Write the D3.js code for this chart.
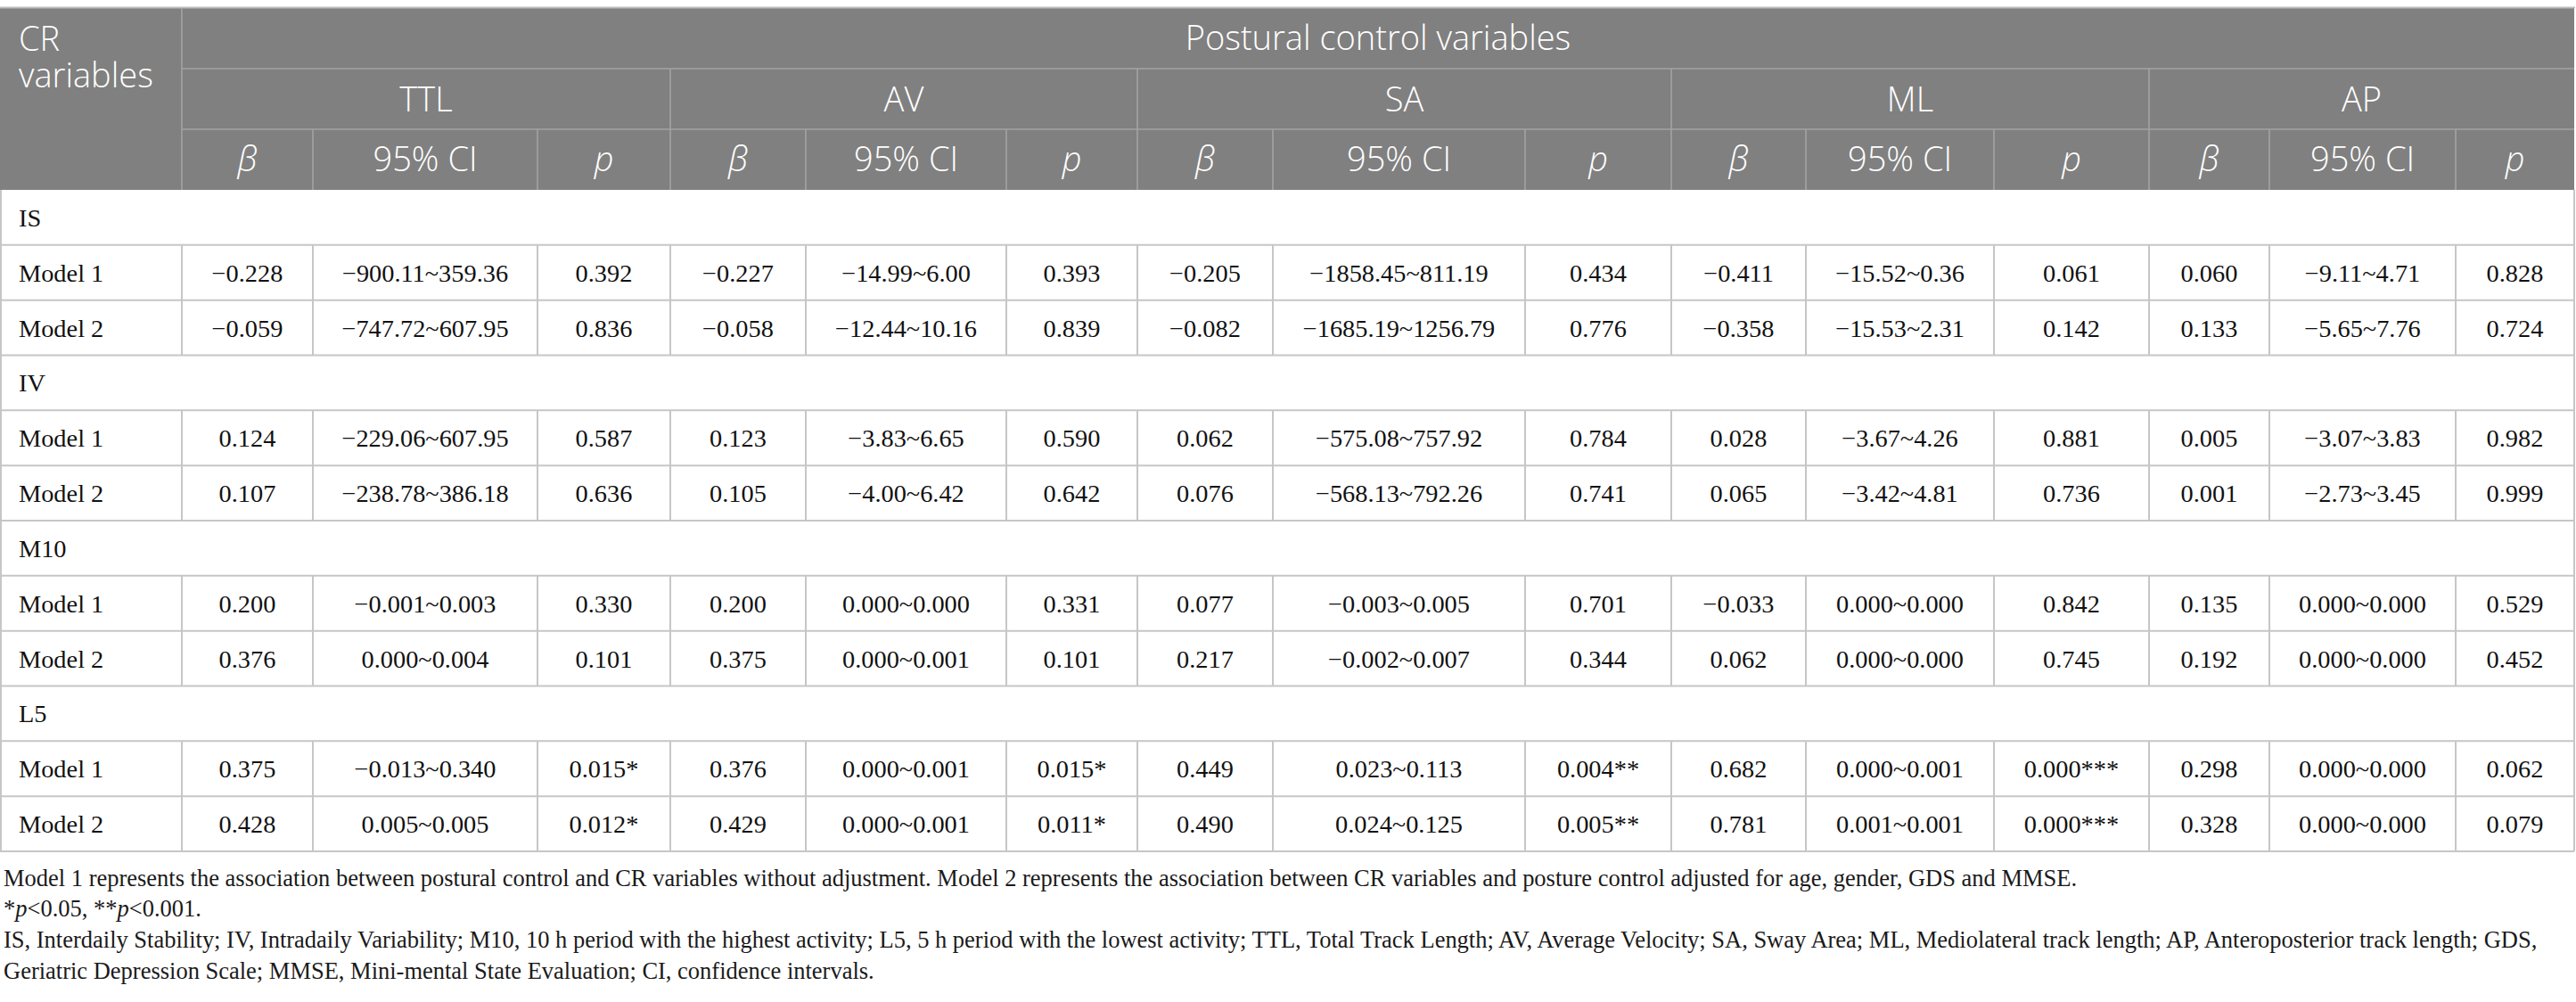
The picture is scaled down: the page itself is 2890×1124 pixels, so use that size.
<!DOCTYPE html>
<html>
<head>
<meta charset="utf-8">
<script src="https://cdn.jsdelivr.net/npm/d3@7"></script>
<style>
html,body{margin:0;padding:0;background:#fff;}
svg{display:block;}
</style>
</head>
<body>
<svg id="chart" width="2890" height="1124"></svg>
<script>
// ---------------- data ----------------
const title = "Postural control variables";
const stubHeader = ["CR", "variables"];
const groups = ["TTL", "AV", "SA", "ML", "AP"];
const subCols = ["β", "95% CI", "p"];
const crVars = ["IS", "IV", "M10", "L5"];
const models = ["Model 1", "Model 2"];

// rows: IS-M1, IS-M2, IV-M1, IV-M2, M10-M1, M10-M2, L5-M1, L5-M2
const TTL = [
  ["−0.228", "−900.11~359.36", "0.392"],
  ["−0.059", "−747.72~607.95", "0.836"],
  ["0.124", "−229.06~607.95", "0.587"],
  ["0.107", "−238.78~386.18", "0.636"],
  ["0.200", "−0.001~0.003", "0.330"],
  ["0.376", "0.000~0.004", "0.101"],
  ["0.375", "−0.013~0.340", "0.015*"],
  ["0.428", "0.005~0.005", "0.012*"]
];
const AV = [
  ["−0.227", "−14.99~6.00", "0.393"],
  ["−0.058", "−12.44~10.16", "0.839"],
  ["0.123", "−3.83~6.65", "0.590"],
  ["0.105", "−4.00~6.42", "0.642"],
  ["0.200", "0.000~0.000", "0.331"],
  ["0.375", "0.000~0.001", "0.101"],
  ["0.376", "0.000~0.001", "0.015*"],
  ["0.429", "0.000~0.001", "0.011*"]
];
const SA = [
  ["−0.205", "−1858.45~811.19", "0.434"],
  ["−0.082", "−1685.19~1256.79", "0.776"],
  ["0.062", "−575.08~757.92", "0.784"],
  ["0.076", "−568.13~792.26", "0.741"],
  ["0.077", "−0.003~0.005", "0.701"],
  ["0.217", "−0.002~0.007", "0.344"],
  ["0.449", "0.023~0.113", "0.004**"],
  ["0.490", "0.024~0.125", "0.005**"]
];
const ML = [
  ["−0.411", "−15.52~0.36", "0.061"],
  ["−0.358", "−15.53~2.31", "0.142"],
  ["0.028", "−3.67~4.26", "0.881"],
  ["0.065", "−3.42~4.81", "0.736"],
  ["−0.033", "0.000~0.000", "0.842"],
  ["0.062", "0.000~0.000", "0.745"],
  ["0.682", "0.000~0.001", "0.000***"],
  ["0.781", "0.001~0.001", "0.000***"]
];
const AP = [
  ["0.060", "−9.11~4.71", "0.828"],
  ["0.133", "−5.65~7.76", "0.724"],
  ["0.005", "−3.07~3.83", "0.982"],
  ["0.001", "−2.73~3.45", "0.999"],
  ["0.135", "0.000~0.000", "0.529"],
  ["0.192", "0.000~0.000", "0.452"],
  ["0.298", "0.000~0.000", "0.062"],
  ["0.328", "0.000~0.000", "0.079"]
];
const footnotes = [
  [{t:"Model 1 represents the association between postural control and CR variables without adjustment. Model 2 represents the association between CR variables and posture control adjusted for age, gender, GDS and MMSE."}],
  [{t:"*"},{t:"p",i:true},{t:"<0.05, **"},{t:"p",i:true},{t:"<0.001."}],
  [{t:"IS, Interdaily Stability; IV, Intradaily Variability; M10, 10 h period with the highest activity; L5, 5 h period with the lowest activity; TTL, Total Track Length; AV, Average Velocity; SA, Sway Area; ML, Mediolateral track length; AP, Anteroposterior track length; GDS,"}],
  [{t:"Geriatric Depression Scale; MMSE, Mini-mental State Evaluation; CI, confidence intervals."}]
];

// ---------------- layout ----------------
const groupData = {TTL, AV, SA, ML, AP};
const colEdges = [0, 204, 351, 603, 752, 904, 1129, 1276, 1428, 1711, 1875, 2026, 2237, 2411, 2546, 2755, 2888];
const headTop = 9, headRowH = 68;
const bodyTop = headTop + 3 * headRowH; // 213
const bodyBottom = 955;
const HEAD_BG = "#808080", HEAD_LINE = "#a3a3a3", BODY_LINE = "#c6c6c6";
const SANS = "'Open Sans', sans-serif";
const SERIF = "'Liberation Serif', 'Times New Roman', serif";

const bodyRows = [];
crVars.forEach((v, gi) => {
  bodyRows.push({type: "group", label: v});
  models.forEach((m, mi) => {
    const idx = gi * 2 + mi;
    const cells = [];
    groups.forEach(g => groupData[g][idx].forEach(c => cells.push(c)));
    bodyRows.push({type: "model", label: m, cells});
  });
});

const svg = d3.select("#chart");
const left = colEdges[0], right = colEdges[colEdges.length - 1];

// --- font calibration against reference text widths ---
function measure(str, family, size, weight) {
  const t = svg.append("text").attr("font-family", family).attr("font-size", size).attr("font-weight", weight || 400).text(str);
  const w = t.node().getComputedTextLength();
  t.remove();
  return w;
}
const fnSize = 25 * 2844 / measure(footnotes[2][0].t, SERIF, 25);
const bodySize = fnSize * 1.07;
const headSize = Math.min(38, 35 * 437 / measure(title, SANS, 35, 300));

const yHead = d3.scaleBand().domain([0, 1, 2]).range([headTop, bodyTop]);
const yBody = d3.scaleBand().domain(d3.range(bodyRows.length)).range([bodyTop, bodyBottom]);

// ---- header background ----
svg.append("rect").attr("x", left).attr("y", headTop).attr("width", right - left).attr("height", bodyTop - headTop).attr("fill", HEAD_BG);
svg.append("line").attr("x1", left).attr("x2", right + 1).attr("y1", headTop - 0.5).attr("y2", headTop - 0.5).attr("stroke", "#bdbdbd").attr("stroke-width", 2);

const hl = svg.append("g").attr("stroke", HEAD_LINE).attr("stroke-width", 1.6);
hl.append("line").attr("x1", colEdges[1]).attr("x2", right).attr("y1", yHead(1)).attr("y2", yHead(1));
hl.append("line").attr("x1", colEdges[1]).attr("x2", right).attr("y1", yHead(2)).attr("y2", yHead(2));
hl.append("line").attr("x1", colEdges[1]).attr("x2", colEdges[1]).attr("y1", headTop).attr("y2", bodyTop);
groups.forEach((g, i) => {
  if (i > 0) {
    const x = colEdges[1 + i * 3];
    hl.append("line").attr("x1", x).attr("x2", x).attr("y1", yHead(1)).attr("y2", bodyTop);
  }
  [1, 2].forEach(k => {
    const x = colEdges[1 + i * 3 + k];
    hl.append("line").attr("x1", x).attr("x2", x).attr("y1", yHead(2)).attr("y2", bodyTop);
  });
});

// header texts
const ht = svg.append("g").attr("fill", "#fff").attr("font-family", SANS).attr("font-weight", 300).attr("font-size", headSize);
const stub = ht.append("text").attr("x", 21).attr("y", 57);
stubHeader.forEach((s, i) => stub.append("tspan").attr("x", 21).attr("dy", i === 0 ? 0 : 41).text(s));
ht.append("text").attr("x", (colEdges[1] + right) / 2).attr("y", yHead(0) + headRowH / 2 + 13).attr("text-anchor", "middle").text(title);
groups.forEach((g, i) => {
  const x0 = colEdges[1 + i * 3], x1 = colEdges[4 + i * 3];
  ht.append("text").attr("x", (x0 + x1) / 2).attr("y", yHead(1) + headRowH / 2 + 14).attr("text-anchor", "middle").text(g);
  subCols.forEach((s, k) => {
    const a = colEdges[1 + i * 3 + k], b = colEdges[2 + i * 3 + k];
    ht.append("text").attr("x", (a + b) / 2).attr("y", yHead(2) + headRowH / 2 + 13).attr("text-anchor", "middle")
      .attr("font-style", s === "95% CI" ? "normal" : "italic").text(s);
  });
});

// ---- body ----
const bl = svg.append("g").attr("stroke", BODY_LINE).attr("stroke-width", 2);
bodyRows.forEach((r, i) => {
  const y0 = yBody(i), y1 = y0 + yBody.bandwidth();
  bl.append("line").attr("x1", left).attr("x2", right).attr("y1", y1).attr("y2", y1);
  if (r.type === "model") {
    colEdges.slice(1, -1).forEach(x => {
      bl.append("line").attr("x1", x).attr("x2", x).attr("y1", y0).attr("y2", y1);
    });
  }
});
bl.append("line").attr("x1", left + 1).attr("x2", left + 1).attr("y1", bodyTop).attr("y2", bodyBottom);
bl.append("line").attr("x1", right).attr("x2", right).attr("y1", bodyTop).attr("y2", bodyBottom);

const bt = svg.append("g").attr("fill", "#111").attr("font-family", SERIF).attr("font-size", bodySize);
bodyRows.forEach((r, i) => {
  const yb = yBody(i) + yBody.bandwidth() / 2 + 10;
  bt.append("text").attr("x", 21).attr("y", yb).text(r.label);
  if (r.type === "model") {
    r.cells.forEach((c, k) => {
      const a = colEdges[1 + k], b = colEdges[2 + k];
      bt.append("text").attr("x", (a + b) / 2).attr("y", yb).attr("text-anchor", "middle").text(c);
    });
  }
});

// ---- footnotes ----
const fnY = [994, 1028, 1063, 1098];
const ft = svg.append("g").attr("fill", "#1a1a1a").attr("font-family", SERIF).attr("font-size", fnSize);
footnotes.forEach((parts, i) => {
  const t = ft.append("text").attr("x", 4).attr("y", fnY[i]);
  parts.forEach(p => t.append("tspan").attr("font-style", p.i ? "italic" : "normal").text(p.t));
});
</script>
</body>
</html>
